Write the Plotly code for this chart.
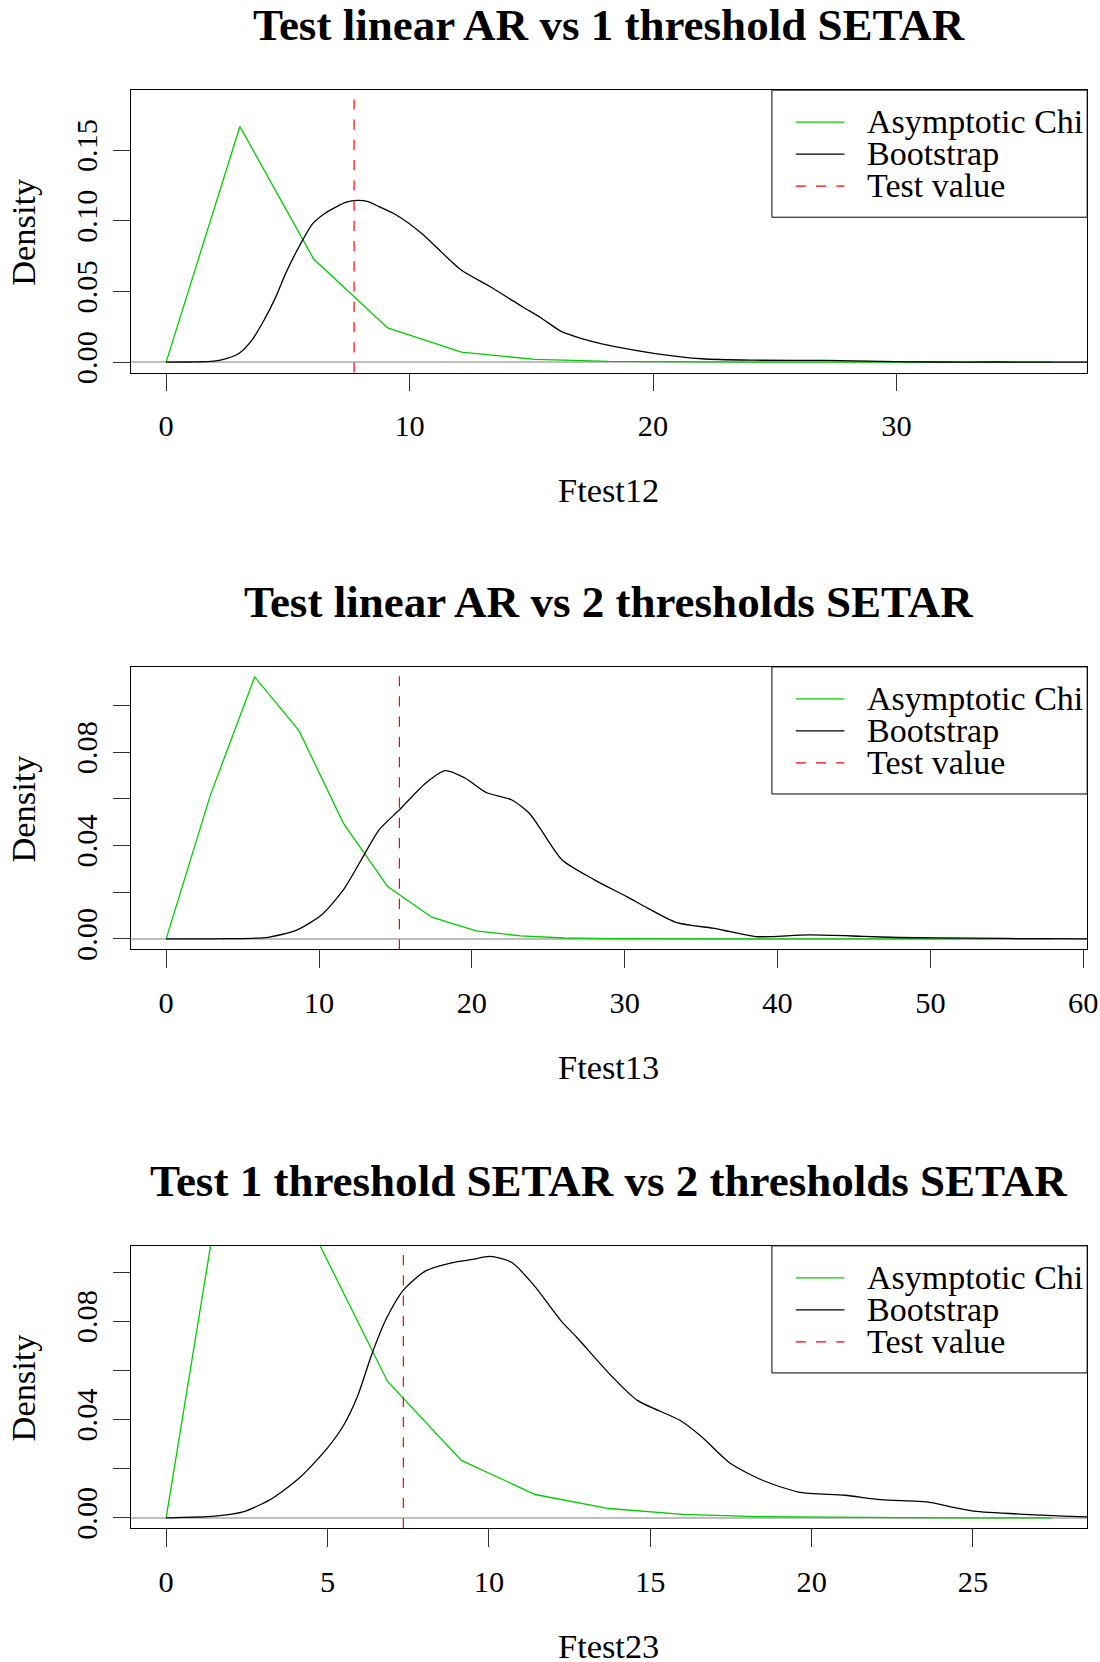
import plotly.graph_objects as go

# ---------------------------------------------------------------------------
# Data: asymptotic (chi-square based) density, bootstrap density and the
# observed statistic for each of the three SETAR linearity tests.
# ---------------------------------------------------------------------------

# Test linear AR vs 1 threshold SETAR
chi12_x = [0, 3.03, 6.06, 9.10, 12.13, 15.16, 18.19, 21.22, 24.25, 27.29, 30.32, 33.35, 36.38]
chi12_y = [0, 0.1667, 0.0729, 0.0242, 0.0071, 0.0019, 0.0005, 0.0001, 0.00003, 0.00001, 0, 0, 0]
boot12_x = [0, 1.0, 1.97, 2.5, 3.0, 3.5, 4.03, 4.5, 4.91, 5.5, 6.02, 6.5, 6.97, 7.4, 7.85,
            8.3, 8.74, 9.47, 10.5, 11.3, 12.12, 13.3, 14.62, 15.39, 16.22, 16.57, 17.4,
            18.33, 20.1, 22.0, 24.1, 27.15, 29.4, 31.6, 34.0, 36.5, 38.5]
boot12_y = [0, 0.0001, 0.0007, 0.0027, 0.0063, 0.015, 0.030, 0.046, 0.0628, 0.083, 0.098,
            0.105, 0.1097, 0.1132, 0.1144, 0.1135, 0.110, 0.1039, 0.091, 0.078, 0.0652,
            0.0535, 0.0394, 0.0314, 0.0218, 0.0195, 0.0150, 0.0113, 0.0061, 0.0024, 0.0014,
            0.0012, 0.0005, 0.0001, 0.0001, 0.0, 0.0]
test12 = 7.72
xticks12 = [0, 10, 20, 30]
yticks12 = [0.00, 0.05, 0.10, 0.15]
ylabels12 = ["0.00", "0.05", "0.10", "0.15"]
xrange12 = [-1.455, 37.835]
yrange12 = [-0.0074, 0.1924]

# Test linear AR vs 2 thresholds SETAR
chi13_x = [0, 2.90, 5.79, 8.69, 11.59, 14.49, 17.38, 20.28, 23.18, 26.07, 28.97, 31.87,
           34.76, 37.66, 40.56, 43.46, 46.35, 49.25, 52.15, 55.04, 57.94]
chi13_y = [0, 0.0617, 0.1122, 0.0892, 0.0496, 0.0224, 0.0093, 0.0034, 0.0013, 0.0004,
           0.00015, 0.00005, 0.00002, 0, 0, 0, 0, 0, 0, 0, 0]
boot13_x = [0, 4.0, 6.67, 8.54, 10.18, 11.59, 12.76, 13.93, 15.26, 16.97, 18.26, 19.55,
            20.95, 22.59, 23.76, 24.7, 25.91, 28.02, 30.13, 31.53, 33.41, 35.75, 36.9,
            38.56, 39.7, 42.07, 45.6, 47.9, 52.6, 57.3, 61.0]
boot13_y = [0, 0.0001, 0.0007, 0.0038, 0.0103, 0.021, 0.0338, 0.0467, 0.0553, 0.0667,
            0.0721, 0.0689, 0.0627, 0.0596, 0.0538, 0.045, 0.0338, 0.0253, 0.0181, 0.0131,
            0.0070, 0.0046, 0.0031, 0.0010, 0.0010, 0.0017, 0.0011, 0.0006, 0.0003, 0.0001, 0.0]
test13 = 15.26
xticks13 = [0, 10, 20, 30, 40, 50, 60]
yticks13 = [0.00, 0.02, 0.04, 0.06, 0.08, 0.10]
ylabels13 = ["0.00", "", "0.04", "", "0.08", ""]
xrange13 = [-2.318, 60.258]
yrange13 = [-0.00448, 0.1165]

# Test 1 threshold SETAR vs 2 thresholds SETAR
chi23_x = [0, 2.287, 4.573, 6.86, 9.147, 11.43, 13.72, 16.01, 18.29, 20.58, 22.87, 25.15, 27.44]
chi23_y = [0, 0.184, 0.1159, 0.0555, 0.0234, 0.0095, 0.0038, 0.0014, 0.0005, 0.0002, 0.0001, 0, 0]
boot23_x = [0, 1.5, 2.38, 3.27, 4.16, 5.0, 5.49, 5.93, 6.37, 6.82, 7.35, 8.04, 8.81, 9.5,
            10.03, 10.7, 11.36, 12.23, 12.72, 13.83, 14.6, 15.93, 16.6, 17.49, 18.48, 19.59,
            21.03, 22.14, 23.58, 24.3, 25.02, 27.13, 28.53, 29.5]
boot23_y = [0, 0.0007, 0.0024, 0.0078, 0.0166, 0.0285, 0.0375, 0.0495, 0.0665, 0.0810,
            0.0927, 0.1005, 0.1037, 0.1052, 0.1064, 0.104, 0.0952, 0.0803, 0.0735, 0.0573,
            0.0478, 0.0396, 0.0329, 0.0221, 0.0153, 0.0105, 0.0092, 0.0074, 0.0065, 0.0045,
            0.0027, 0.0011, 0.0004, 0.0002]
test23 = 7.35
xticks23 = [0, 5, 10, 15, 20, 25]
yticks23 = [0.00, 0.02, 0.04, 0.06, 0.08, 0.10]
ylabels23 = ["0.00", "", "0.04", "", "0.08", ""]
xrange23 = [-1.0976, 28.538]
yrange23 = [-0.00426, 0.1107]

titles = ["Test linear AR vs 1 threshold SETAR",
          "Test linear AR vs 2 thresholds SETAR",
          "Test 1 threshold SETAR vs 2 thresholds SETAR"]
xtitles = ["Ftest12", "Ftest13", "Ftest23"]
legend_labels = ["Asymptotic Chi", "Bootstrap", "Test value"]

# ---------------------------------------------------------------------------
# Page geometry.  Positions below are given on a 1100 x 1662 design grid and
# converted to paper fractions; the figure itself is drawn slightly larger.
# ---------------------------------------------------------------------------
GW, GH = 1100.0, 1662.0          # design grid
W, H = 1113, 1674                # figure size in px
S = W / GW                       # size factor for fonts / lengths
FONT = "Liberation Serif, Times New Roman, serif"
GREEN, BLACK, RED, GREY = "#00CD00", "#000000", "#FF0000", "#BEBEBE"

BOX_L, BOX_R = 130.5, 1085.2
BOX_H = 282.3
BOX_TOPS = [90.1, 666.5, 1245.1]


def fx(px):
    return px / GW


def fy(py):
    return 1 - py / GH


def sz(v):
    return round(v * S, 2)


DASH = f"{sz(10)}px,{sz(10)}px"

panels = [
    (chi12_x, chi12_y, boot12_x, boot12_y, test12, xticks12, yticks12, ylabels12, xrange12, yrange12),
    (chi13_x, chi13_y, boot13_x, boot13_y, test13, xticks13, yticks13, ylabels13, xrange13, yrange13),
    (chi23_x, chi23_y, boot23_x, boot23_y, test23, xticks23, yticks23, ylabels23, xrange23, yrange23),
]

fig = go.Figure()
layout = dict(
    width=W, height=H, margin=dict(l=0, r=0, t=0, b=0),
    paper_bgcolor="white", plot_bgcolor="white", showlegend=False,
    font=dict(family=FONT, color="black"),
)
shapes, annotations = [], []

for i, (cx, cy, bx, by, tv, xt, yt, yl, xr, yr) in enumerate(panels):
    n = "" if i == 0 else str(i + 1)
    top = BOX_TOPS[i]
    bottom = top + BOX_H
    xa, ya = "x" + n, "y" + n

    fig.add_trace(go.Scatter(x=cx, y=cy, mode="lines", xaxis=xa, yaxis=ya,
                             line=dict(color=GREEN, width=1.3), name=legend_labels[0]))
    fig.add_trace(go.Scatter(x=bx, y=by, mode="lines", xaxis=xa, yaxis=ya,
                             line=dict(color=BLACK, width=1.3, shape="spline", smoothing=0.7),
                             name=legend_labels[1]))

    layout["xaxis" + n] = dict(
        domain=[fx(BOX_L), fx(BOX_R)], anchor=ya, range=xr,
        tickmode="array", tickvals=xt, ticktext=[str(v) for v in xt],
        ticks="outside", ticklen=sz(17), tickwidth=1, tickcolor="#333333",
        showline=True, linecolor="black", linewidth=1, mirror=True,
        showgrid=False, zeroline=False, ticklabelstandoff=9,
        tickfont=dict(family=FONT, size=sz(30), color="black"),
    )
    layout["yaxis" + n] = dict(
        domain=[fy(bottom), fy(top)], anchor=xa, range=yr,
        tickmode="array", tickvals=yt, ticktext=yl, tickangle=-90,
        ticks="outside", ticklen=sz(17), tickwidth=1, tickcolor="#333333",
        showline=True, linecolor="black", linewidth=1, mirror=True,
        showgrid=False, zeroline=True, zerolinecolor=GREY, zerolinewidth=1.5,
        ticklabelstandoff=3,
        tickfont=dict(family=FONT, size=sz(30), color="black"),
    )

    # observed statistic
    shapes.append(dict(type="line", xref=xa, yref=ya + " domain", x0=tv, x1=tv, y0=0, y1=1,
                       line=dict(color=RED, width=1.2, dash=DASH)))

    # titles
    annotations.append(dict(text=titles[i], x=fx((BOX_L + BOX_R) / 2), y=fy(top - 65.0),
                            xref="paper", yref="paper", showarrow=False, borderpad=0,
                            xanchor="center", yanchor="middle",
                            font=dict(family=FONT, size=sz(44.5), weight=700, color="black")))
    annotations.append(dict(text=xtitles[i], x=fx((BOX_L + BOX_R) / 2), y=fy(bottom + 117.6),
                            xref="paper", yref="paper", showarrow=False, borderpad=0,
                            xanchor="center", yanchor="middle",
                            font=dict(family=FONT, size=sz(34), color="black")))
    annotations.append(dict(text="Density", x=fx(23.3), y=fy(top + BOX_H / 2),
                            xref="paper", yref="paper", showarrow=False, textangle=-90,
                            borderpad=0, xanchor="center", yanchor="middle",
                            font=dict(family=FONT, size=sz(34), color="black")))

    # legend box in the top-right corner
    shapes.append(dict(type="rect", xref="paper", yref="paper",
                       x0=fx(770.5), x1=fx(BOX_R), y0=fy(top + 127), y1=fy(top),
                       line=dict(color="black", width=1), fillcolor="white", layer="above"))
    styles = [dict(color=GREEN, width=1.3), dict(color=BLACK, width=1.3),
              dict(color=RED, width=1.2, dash=DASH)]
    for k, (lab, st) in enumerate(zip(legend_labels, styles)):
        ry = top + 32 + 32 * k
        shapes.append(dict(type="line", xref="paper", yref="paper",
                           x0=fx(794.3), x1=fx(842.9), y0=fy(ry), y1=fy(ry), line=st,
                           layer="above"))
        annotations.append(dict(text=lab, x=fx(864.0), y=fy(ry - 0.5), xref="paper",
                                yref="paper", showarrow=False, xanchor="left",
                                yanchor="middle", borderpad=0,
                                font=dict(family=FONT, size=sz(33.6), color="black")))

layout["shapes"] = shapes
layout["annotations"] = annotations
fig.update_layout(**layout)

page_fit = (
    "document.documentElement.style.overflow='hidden';"
    "document.body.style.overflow='hidden';"
    "document.body.style.margin='0';"
    "var gd=document.getElementById('{plot_id}');"
    "gd.style.position='fixed';gd.style.left='0px';gd.style.top='0px';"
)
fig.write_html("out.html", post_script=page_fit)
